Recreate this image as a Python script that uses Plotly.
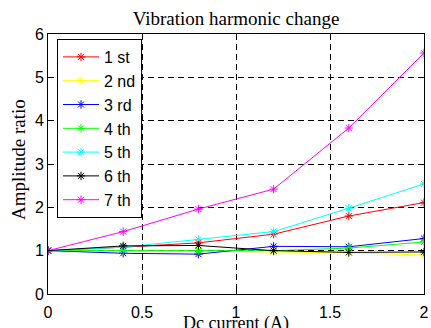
import plotly.graph_objects as go

x_current = [0, 0.4, 0.8, 1.2, 1.6, 2.0]
h1 = [1, 1.08, 1.18, 1.38, 1.80, 2.11]
h2 = [1, 1.00, 0.99, 0.97, 0.95, 0.90]
h3 = [1, 0.94, 0.92, 1.10, 1.09, 1.28]
h4 = [1, 1.00, 1.00, 1.00, 1.06, 1.20]
h5 = [1, 1.08, 1.26, 1.44, 1.98, 2.54]
h6 = [1, 1.11, 1.12, 1.00, 0.96, 0.97]
h7 = [1, 1.44, 1.96, 2.42, 3.83, 5.56]
names = ["1 st", "2 nd", "3 rd", "4 th", "5 th", "6 th", "7 th"]
series = [h1, h2, h3, h4, h5, h6, h7]
colors = ["#ff0000", "#ffff00", "#0000ff", "#00ff00", "#00ffff", "#000000", "#ff00ff"]

fig = go.Figure()
for i, (nm, ys, c) in enumerate(zip(names, series, colors)):
    fig.add_trace(go.Scatter(
        x=x_current, y=ys, name=nm, mode="lines+markers",
        line=dict(color=c, width=1),
        marker=dict(symbol="asterisk-open", size=7, color=c, line=dict(color=c, width=1)),
        legendgroup="g%d" % i,
    ))

W, H = 431, 328
ml, mr, mt, mb = 48, 7, 34, 34
axis_common = dict(
    showline=True, linecolor="black", linewidth=1, mirror="ticks",
    ticks="inside", ticklen=4, tickcolor="black",
    showgrid=True, gridcolor="black", gridwidth=1, griddash="6px,4px",
    zeroline=False, automargin=False,
    tickfont=dict(family="Liberation Sans, Arial", size=16, color="black"),
)
fig.update_layout(
    width=W, height=H,
    margin=dict(l=ml, r=mr, t=mt, b=mb),
    paper_bgcolor="white", plot_bgcolor="white",
    xaxis=dict(range=[0, 2], tickvals=[0, 0.5, 1, 1.5, 2], ticktext=["0", "0.5", "1", "1.5", "2"],
               ticklabelstandoff=4, **axis_common),
    yaxis=dict(range=[0, 6], tickvals=[0, 1, 2, 3, 4, 5, 6], **axis_common),
    title=dict(text="Vibration harmonic change", x=0.5, xref="paper",
               y=1 - 18 / H, yref="container", yanchor="middle",
               font=dict(family="Liberation Serif, Times New Roman", size=19, color="black")),
    legend=dict(x=9 / 376, y=1 - 5 / 260, xanchor="left", yanchor="top",
                bgcolor="white", bordercolor="black", borderwidth=1,
                font=dict(family="Liberation Sans, Arial", size=16, color="black"),
                traceorder="grouped", tracegroupgap=0, itemwidth=36),
    showlegend=True,
    annotations=[
        dict(text="Dc current (A)", xref="paper", yref="paper", x=0.5, y=-(323 - 294) / 260,
             xanchor="center", yanchor="middle", showarrow=False,
             font=dict(family="Liberation Serif, Times New Roman", size=18, color="black")),
        dict(text="Amplitude ratio", xref="paper", yref="paper", x=-(48 - 18) / 376, y=(294 - 160) / 260,
             xanchor="center", yanchor="middle", showarrow=False, textangle=-90,
             font=dict(family="Liberation Serif, Times New Roman", size=19, color="black")),
    ],
)
fig.write_html("out.html")
